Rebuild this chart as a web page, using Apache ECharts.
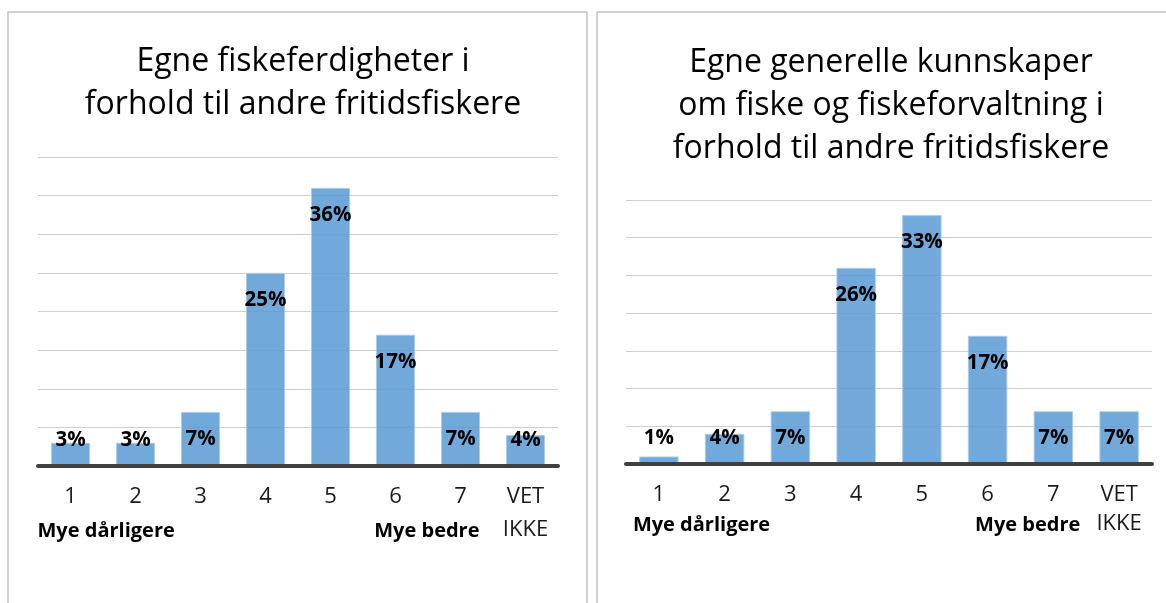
<!DOCTYPE html>
<html>
<head>
<meta charset="utf-8">
<script src="https://cdn.jsdelivr.net/npm/echarts@6/dist/echarts.min.js"></script>
<style>
  html, body { margin: 0; padding: 0; background: #ffffff; }
  #chart { width: 1166px; height: 603px; }
</style>
</head>
<body>
<div id="chart"></div>
<script>
// Answer categories on the 1–7 scale plus "don't know"
const categories = ['1', '2', '3', '4', '5', '6', '7', 'VET\nIKKE'];

// Share of respondents (%) per category
const skillValues = [3, 3, 7, 25, 36, 17, 7, 4];
const knowledgeValues = [1, 4, 7, 26, 33, 17, 7, 7];

const skillTitle = 'Egne fiskeferdigheter i\nforhold til andre fritidsfiskere';
const knowledgeTitle = 'Egne generelle kunnskaper\nom fiske og fiskeforvaltning i\nforhold til andre fritidsfiskere';

const scaleLowLabel = 'Mye dårligere';
const scaleHighLabel = 'Mye bedre';

const skillAxisMax = 40;
const knowledgeAxisMax = 35;
const axisStep = 5;

const FONT = '"Open Sans", "Noto Sans", sans-serif';
const BAR_FILL = 'rgba(91,155,213,0.86)';
const BAR_EDGE = 'rgba(170,203,233,0.9)';

const panels = [
  {
    values: skillValues, title: skillTitle, yMax: skillAxisMax,
    grid: { left: 38, top: 157, width: 520, height: 309 },
    frame: { x: 8, y: 12, w: 579 },
    titleX: 298, titleTop: 35, titleLine: 43,
    tickLine: 33, tickMargin: 14, lowDx: -33, highDx: 19
  },
  {
    values: knowledgeValues, title: knowledgeTitle, yMax: knowledgeAxisMax,
    grid: { left: 626, top: 200, width: 526, height: 264 },
    frame: { x: 597, y: 12, w: 600 },
    titleX: 886, titleTop: 36, titleLine: 43,
    tickLine: 29, tickMargin: 16, lowDx: -26, highDx: 27
  }
];

// Labels sit just below the bar top; short bars keep them a fixed distance above the axis
function barData(p) {
  return p.values.map(function (v) {
    const px = v / p.yMax * p.grid.height;
    const low = px < 53;
    return {
      value: v,
      label: { position: low ? 'insideBottom' : 'insideTop', distance: low ? 14 : 15 }
    };
  });
}

const chart = echarts.init(document.getElementById('chart'), null, { renderer: 'canvas' });

const option = {
  backgroundColor: '#ffffff',
  animation: false,
  title: panels.map(function (p) {
    return {
      text: p.title,
      left: p.titleX,
      top: p.titleTop,
      textAlign: 'center',
      textStyle: { fontFamily: FONT, fontSize: 32, fontWeight: 'normal', color: '#000000', lineHeight: p.titleLine }
    };
  }),
  grid: panels.map(function (p) {
    return { left: p.grid.left, top: p.grid.top, width: p.grid.width, height: p.grid.height, containLabel: false };
  }),
  xAxis: panels.map(function (p, i) {
    return {
      type: 'category',
      gridIndex: i,
      data: categories,
      axisLine: { show: true, lineStyle: { color: '#404040', width: 4 } },
      axisTick: { show: false },
      axisLabel: {
        margin: p.tickMargin,
        fontFamily: FONT, fontSize: 22, color: '#1a1a1a',
        lineHeight: p.tickLine, interval: 0
      },
      z: 5
    };
  }),
  yAxis: panels.map(function (p, i) {
    return {
      type: 'value',
      gridIndex: i,
      min: 0, max: p.yMax, interval: axisStep,
      axisLine: { show: false },
      axisTick: { show: false },
      axisLabel: { show: false },
      splitLine: { show: true, lineStyle: { color: '#cfcfcf', width: 1.2 } }
    };
  }),
  series: panels.map(function (p, i) {
    return {
      type: 'bar',
      xAxisIndex: i, yAxisIndex: i,
      data: barData(p),
      barWidth: '60%',
      itemStyle: { color: BAR_FILL, borderColor: BAR_EDGE, borderWidth: 1 },
      label: {
        show: true,
        formatter: '{c}%',
        fontFamily: FONT, fontSize: 20.5, fontWeight: 'bold', color: '#000000',
        lineHeight: 24
      }
    };
  })
};

chart.setOption(option);

// Panel frames and the scale-end captions under the axis
const elements = [];
panels.forEach(function (p, i) {
  elements.push({
    id: 'frame' + i, type: 'rect', silent: true, z: 0,
    shape: { x: p.frame.x, y: p.frame.y, width: p.frame.w, height: 640 },
    style: { fill: 'none', stroke: '#c4c4c4', lineWidth: 1.5 }
  });
  const firstX = chart.convertToPixel({ xAxisIndex: i }, 0);
  const seventhX = chart.convertToPixel({ xAxisIndex: i }, 6);
  const axisY = chart.convertToPixel({ yAxisIndex: i }, 0);
  const captionY = axisY + p.tickMargin + p.tickLine * 1.5 + 2;
  elements.push({
    id: 'low' + i, type: 'text', silent: true,
    x: firstX + p.lowDx, y: captionY,
    style: { text: scaleLowLabel, fontFamily: FONT, fontSize: 20, fontWeight: 'bold', fill: '#000000', align: 'left', verticalAlign: 'middle' }
  });
  elements.push({
    id: 'high' + i, type: 'text', silent: true,
    x: seventhX + p.highDx, y: captionY,
    style: { text: scaleHighLabel, fontFamily: FONT, fontSize: 20, fontWeight: 'bold', fill: '#000000', align: 'right', verticalAlign: 'middle' }
  });
});
chart.setOption({ graphic: { elements: elements } });
</script>
</body>
</html>
